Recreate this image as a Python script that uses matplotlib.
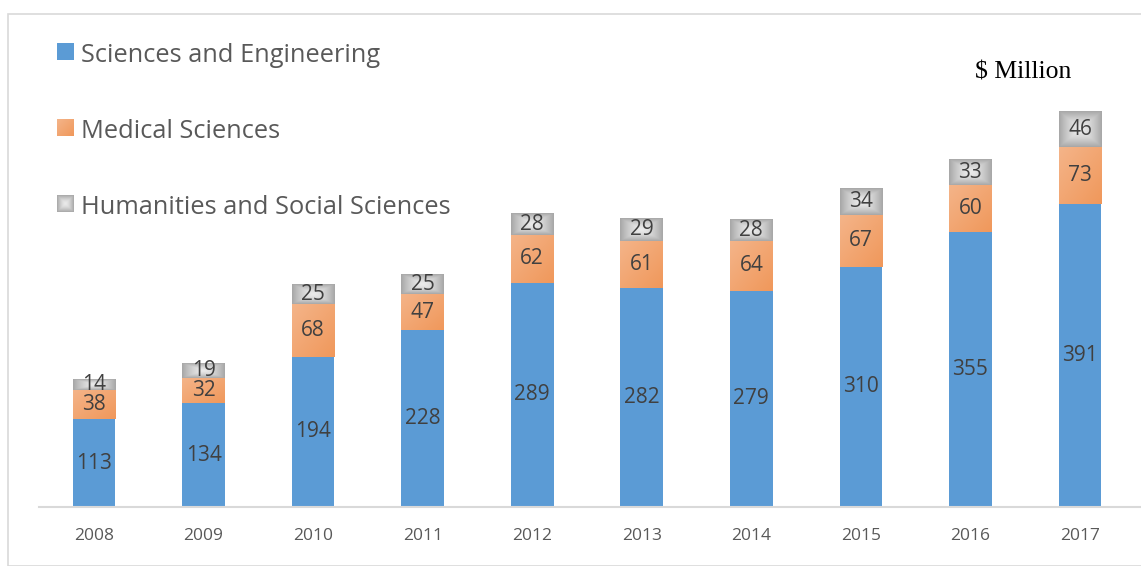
import numpy as np
import matplotlib.pyplot as plt
from matplotlib.patches import Rectangle

years = ['2008', '2009', '2010', '2011', '2012', '2013', '2014', '2015', '2016', '2017']
sci_eng = [113, 134, 194, 228, 289, 282, 279, 310, 355, 391]
medical = [38, 32, 68, 47, 62, 61, 64, 67, 60, 73]
humanities = [14, 19, 25, 25, 28, 29, 28, 34, 33, 46]

plt.rcParams['font.family'] = ['Open Sans', 'DejaVu Sans']

W, H = 1141, 566
fig = plt.figure(figsize=(W / 100, H / 100), dpi=100)

# outer chart frame (light gray)
fig.patches.append(Rectangle((8 / W, 0), 1.2, (H - 14) / H, transform=fig.transFigure,
                             fill=False, edgecolor='#d9d9d9', lw=1.2))

ax = fig.add_axes([39 / W, (H - 507) / H, (W - 39) / W, 507 / H])
x = np.arange(len(years))
bw = 0.39
XL = (-0.502, 9.557)

blue = '#5b9bd5'
ax.bar(x, sci_eng, bw, color=blue, zorder=2)

# gradients for the orange and gray segments
gx, gy = np.meshgrid(np.linspace(0, 1, 40), np.linspace(0, 1, 40))
orange_grad = (gx + gy) / 2
o1 = np.array([0.957, 0.706, 0.537])
o2 = np.array([0.941, 0.596, 0.357])
orange_img = o1 + (o2 - o1) * orange_grad[..., None]
d = np.maximum(np.abs(gx - 0.5), np.abs(gy - 0.5)) * 2
g1, g2 = 0.92, 0.66
gray_img = np.repeat((g1 + (g2 - g1) * d ** 1.5)[..., None], 3, axis=2)

bottom2 = np.array(sci_eng)
bottom3 = bottom2 + np.array(medical)
for i in range(len(years)):
    l = x[i] - bw / 2
    ax.imshow(orange_img, extent=(l, l + bw, bottom2[i], bottom3[i]), aspect='auto',
              origin='upper', zorder=2, interpolation='bilinear')
    ax.imshow(gray_img, extent=(l, l + bw, bottom3[i], bottom3[i] + humanities[i]),
              aspect='auto', origin='upper', zorder=2, interpolation='bilinear')
ax.set_aspect('auto')
ax.set_xlim(*XL)
ax.set_ylim(0, 654)

lab = dict(ha='center', va='center', color='#404040', fontsize=15, zorder=3)
for i in range(len(years)):
    ax.text(x[i], sci_eng[i] / 2, str(sci_eng[i]), **lab)
    ax.text(x[i], bottom2[i] + medical[i] / 2, str(medical[i]), **lab)
    ax.text(x[i], bottom3[i] + humanities[i] / 2, str(humanities[i]), **lab)

for s in ['top', 'right', 'left']:
    ax.spines[s].set_visible(False)
ax.spines['bottom'].set_color('#d9d9d9')
ax.spines['bottom'].set_linewidth(1.5)
ax.set_yticks([])
ax.set_xticks(x)
ax.set_xticklabels(years, color='#595959', fontsize=12.5)
ax.tick_params(axis='x', length=0, pad=15)

# legend
names = ['Sciences and Engineering', 'Medical Sciences', 'Humanities and Social Sciences']
ys = [52, 128, 204]
for n, yy, img in zip(names, ys, [None, orange_img, gray_img]):
    sq = fig.add_axes([57 / W, (H - yy - 8) / H, 17 / W, 17 / H])
    sq.axis('off')
    if img is None:
        sq.add_patch(Rectangle((0, 0), 1, 1, color=blue))
        sq.set_xlim(0, 1)
        sq.set_ylim(0, 1)
    else:
        sq.imshow(img, extent=(0, 1, 0, 1), aspect='auto')
    fig.text(81 / W, (H - yy - 3) / H, n, fontsize=18.3, color='#595959', va='center')

fig.text(975 / W, (H - 72) / H, '$ Million', fontsize=18.5, color='black', va='center',
         family='Liberation Serif')

fig.savefig('out.png', dpi=100)
